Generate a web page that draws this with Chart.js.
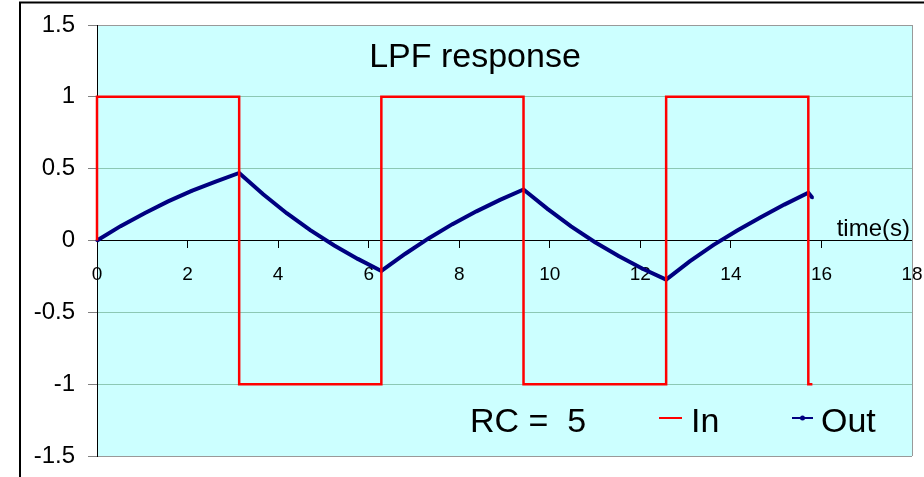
<!DOCTYPE html>
<html>
<head>
<meta charset="utf-8">
<script src="https://cdn.jsdelivr.net/npm/chart.js@4/dist/chart.umd.min.js"></script>
<style>
  html, body { margin: 0; padding: 0; background: #fff; }
  #wrap { width: 924px; height: 477px; }
</style>
</head>
<body>
<div id="wrap"><canvas id="lpf" width="924" height="477"></canvas></div>
<script>
// square wave input
const inTime = [0, 0, 3.14, 3.14, 6.28, 6.28, 9.42, 9.42, 12.57, 12.57, 15.71, 15.71, 15.8];
const inValue = [0, 1, 1, -1, -1, 1, 1, -1, -1, 1, 1, -1, -1];

// filter output
const outTime = [0, 0.52, 1.05, 1.57, 2.09, 2.62, 3.14, 3.67, 4.19, 4.71, 5.24, 5.76, 6.28,
  6.81, 7.33, 7.85, 8.38, 8.90, 9.42, 9.95, 10.47, 11.00, 11.52, 12.04, 12.57,
  13.09, 13.61, 14.14, 14.66, 15.18, 15.71, 15.8];
const outValue = [0, 0.1, 0.19, 0.272, 0.345, 0.41, 0.47, 0.322, 0.19, 0.072, -0.035, -0.128, -0.212,
  -0.092, 0.016, 0.114, 0.203, 0.283, 0.355, 0.22, 0.098, -0.012, -0.108, -0.195, -0.272,
  -0.146, -0.032, 0.07, 0.162, 0.25, 0.332, 0.298];

const xTicks = [0, 2, 4, 6, 8, 10, 12, 14, 16, 18];
const yTicks = [-1.5, -1, -0.5, 0, 0.5, 1, 1.5];

const titleText = 'LPF response';
const axisText = 'time(s)';
const rcText = 'RC =  5';
const seriesNames = ['In', 'Out'];

const FONT = "'Liberation Sans', Arial, sans-serif";
const RED = '#ff0000';
const NAVY = '#000080';

const toPoints = (xs, ys) => xs.map((x, i) => ({ x: x, y: ys[i] }));

// keep tick labels from pushing the plot area around
const noPad = (s) => {
  s.paddingLeft = 0;
  s.paddingRight = 0;
  s.paddingTop = 0;
  s.paddingBottom = 0;
};

const decor = {
  id: 'decor',
  beforeDraw(chart) {
    const { ctx, chartArea: a } = chart;
    ctx.save();
    ctx.fillStyle = '#ccffff';
    ctx.fillRect(a.left, a.top, a.right - a.left, a.bottom - a.top);
    ctx.restore();
  },
  beforeDatasetsDraw(chart) {
    const { ctx, chartArea: a } = chart;
    ctx.save();
    ctx.strokeStyle = '#999999';
    ctx.lineWidth = 1;
    ctx.beginPath();
    ctx.moveTo(a.right + 0.5, a.top);
    ctx.lineTo(a.right + 0.5, a.bottom);
    ctx.stroke();
    ctx.restore();
  },
  afterDraw(chart) {
    const { ctx } = chart;
    ctx.save();
    // outer frame
    ctx.strokeStyle = '#000';
    ctx.lineWidth = 2;
    ctx.beginPath();
    ctx.moveTo(20, 477);
    ctx.lineTo(20, 2.5);
    ctx.lineTo(924, 2.5);
    ctx.stroke();

    ctx.fillStyle = '#000';
    ctx.textBaseline = 'alphabetic';
    ctx.font = '34px ' + FONT;
    ctx.textAlign = 'center';
    ctx.fillText(titleText, 475, 67);

    ctx.font = '24px ' + FONT;
    ctx.textAlign = 'right';
    ctx.fillText(axisText, 910, 236);

    // legend
    ctx.font = '34px ' + FONT;
    ctx.textAlign = 'left';
    ctx.fillText(rcText, 470, 432);
    ctx.fillText(seriesNames[0], 691, 432);
    ctx.fillText(seriesNames[1], 821, 432);

    ctx.lineWidth = 2;
    ctx.strokeStyle = RED;
    ctx.beginPath();
    ctx.moveTo(659, 418);
    ctx.lineTo(682, 418);
    ctx.stroke();
    ctx.strokeStyle = NAVY;
    ctx.beginPath();
    ctx.moveTo(792, 418);
    ctx.lineTo(813, 418);
    ctx.stroke();
    ctx.fillStyle = NAVY;
    ctx.beginPath();
    ctx.arc(802.5, 418, 2.5, 0, Math.PI * 2);
    ctx.fill();
    ctx.restore();
  }
};

new Chart(document.getElementById('lpf'), {
  type: 'scatter',
  data: {
    datasets: [
      {
        label: seriesNames[0],
        data: toPoints(inTime, inValue),
        showLine: true,
        borderColor: RED,
        borderWidth: 2.5,
        pointRadius: 0,
        tension: 0,
        clip: false,
      },
      {
        label: seriesNames[1],
        data: toPoints(outTime, outValue),
        showLine: true,
        borderColor: NAVY,
        borderWidth: 4,
        pointRadius: 1.5,
        pointBorderWidth: 0,
        pointBackgroundColor: NAVY,
        tension: 0,
        clip: false,
      },
    ],
  },
  options: {
    responsive: false,
    animation: false,
    devicePixelRatio: 1,
    layout: { padding: { left: 0, top: 25, right: 12, bottom: 21 } },
    plugins: {
      legend: { display: false },
      tooltip: { enabled: false },
    },
    scales: {
      x: {
        type: 'linear',
        min: 0,
        max: 18,
        position: { y: 0 },
        afterBuildTicks: (s) => { s.ticks = xTicks.map((v) => ({ value: v })); },
        afterFit: (s) => { noPad(s); s.height = 0; },
        grid: { drawOnChartArea: false, drawTicks: true, tickLength: 7, tickColor: '#000' },
        border: { color: '#000', width: 1 },
        ticks: {
          color: '#000',
          font: { family: FONT, size: 19 },
          padding: 16,
          maxRotation: 0,
          autoSkip: false,
        },
      },
      y: {
        type: 'linear',
        min: -1.5,
        max: 1.5,
        afterBuildTicks: (s) => { s.ticks = yTicks.map((v) => ({ value: v })); },
        afterFit: (s) => { noPad(s); s.width = 97; },
        grid: {
          color: (c) => {
            const v = c.tick ? c.tick.value : null;
            if (v === 1.5 || v === -1.5) return '#999999';
            if (v === 0) return 'rgba(0,0,0,0)';
            return '#8cc8b4';
          },
          tickColor: '#808080',
          tickLength: 9,
          lineWidth: 1,
        },
        border: { color: '#000', width: 1 },
        ticks: {
          color: '#000',
          font: { family: FONT, size: 24 },
          padding: 13,
          callback: (v) => String(v),
        },
      },
    },
  },
  plugins: [decor],
});
</script>
</body>
</html>
